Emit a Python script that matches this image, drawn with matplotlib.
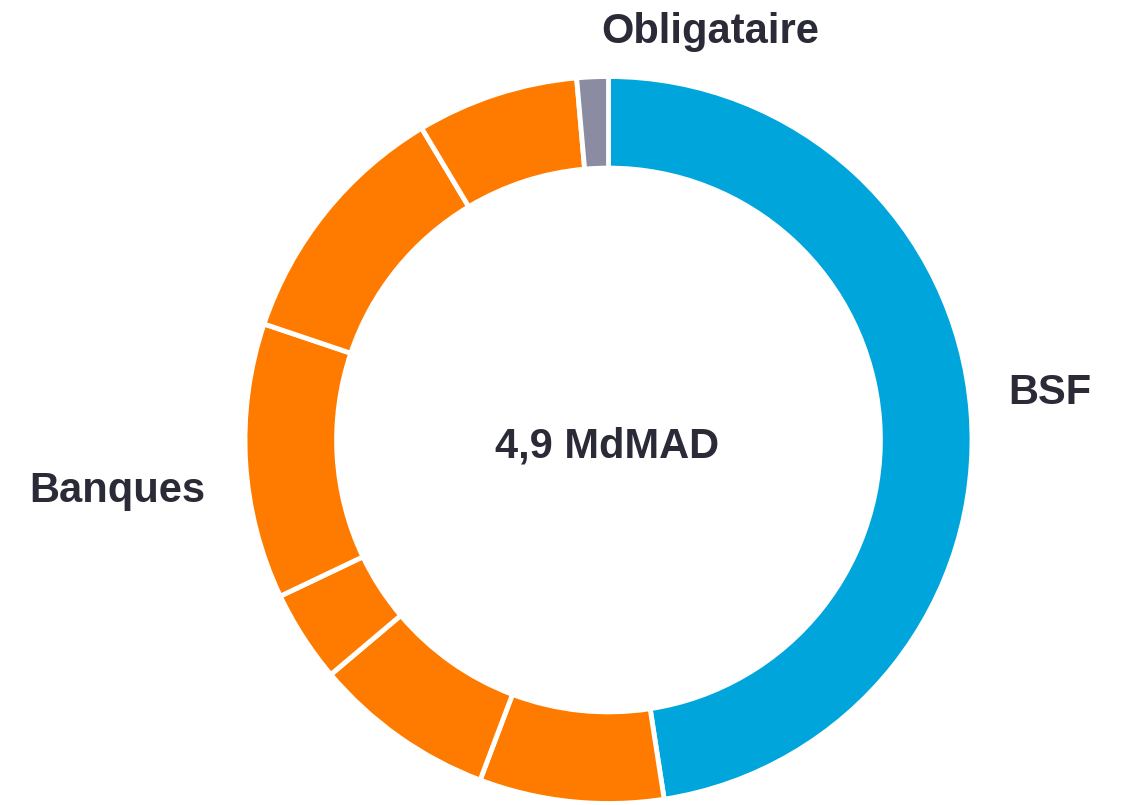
import matplotlib
matplotlib.use("Agg")
import matplotlib.pyplot as plt

segments = ["BSF", "Banque 1", "Banque 2", "Banque 3", "Banque 4", "Banque 5", "Banque 6", "Obligataire"]
shares = [47.6, 8.2, 8.1, 4.1, 12.25, 11.25, 7.2, 1.4]
groups = ["BSF", "Banques", "Banques", "Banques", "Banques", "Banques", "Banques", "Obligataire"]
group_colors = {"BSF": "#00A6DB", "Banques": "#FF7B00", "Obligataire": "#8B8BA2"}
center_label = "4,9 MdMAD"

W, H = 1122, 805
fig = plt.figure(figsize=(W / 100, H / 100), dpi=100)
ax = fig.add_axes([0, 0, 1, 1])

cx, cy, R = 608.5, H - 440, 363.5
colors = [group_colors[g] for g in groups]
ax.pie(shares, colors=colors, startangle=90, counterclock=False,
       radius=R, center=(cx, cy),
       wedgeprops=dict(width=R * 0.252, edgecolor="white", linewidth=3.5))
ax.set_xlim(0, W)
ax.set_ylim(0, H)
ax.set_aspect("equal")
ax.axis("off")

tc = "#2B2B38"
font = dict(family=["Liberation Sans", "DejaVu Sans"], fontweight="bold", fontsize=30, color=tc)
ax.text(710, H - 43, "Obligataire", ha="center", va="baseline", **font)
ax.text(1050, H - 404, "BSF", ha="center", va="baseline", **font)
ax.text(117, H - 502, "Banques", ha="center", va="baseline", **font)
ax.text(607.5, H - 457, center_label, ha="center", va="baseline", **font)

fig.savefig("out.png", dpi=100)
